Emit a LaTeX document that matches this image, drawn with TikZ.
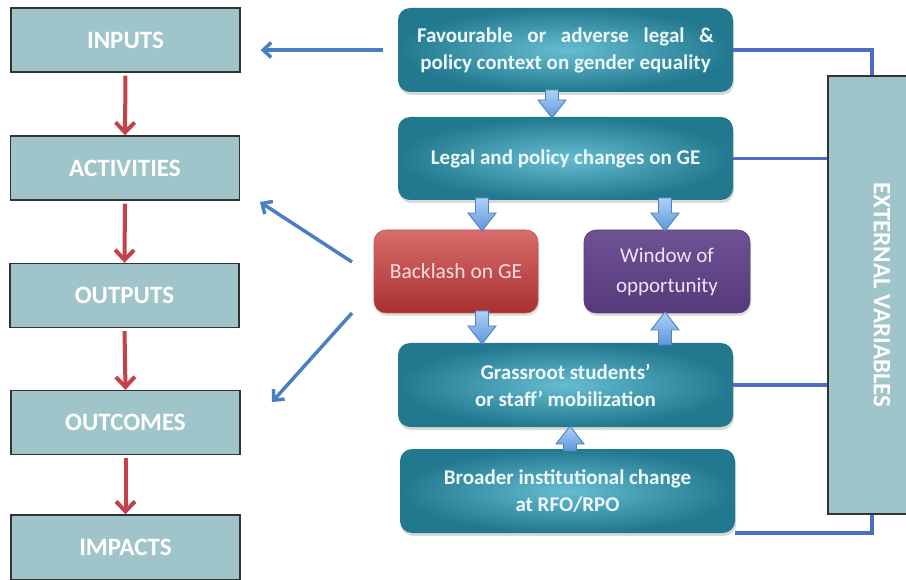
\documentclass[tikz,border=0pt]{standalone}
\usepackage{fontspec}
\setmainfont{Carlito}
\usetikzlibrary{arrows.meta,shadows,calc}
\definecolor{leftfill}{HTML}{9FC4C9}
\definecolor{boxline}{HTML}{333333}
\definecolor{tealin}{HTML}{66BCD0}
\definecolor{tealout}{HTML}{22788E}
\definecolor{tealtext}{HTML}{EEF7F9}
\definecolor{redtop}{HTML}{D96C6C}
\definecolor{redbot}{HTML}{A83030}
\definecolor{redtext}{HTML}{F9DEDE}
\definecolor{purtop}{HTML}{6E5294}
\definecolor{purbot}{HTML}{56397A}
\definecolor{purtext}{HTML}{EDE6F5}
\definecolor{redarrow}{HTML}{C4404A}
\definecolor{bluearrow}{HTML}{4A7FC1}
\definecolor{connblue}{HTML}{4D6EC3}
\definecolor{bardark}{HTML}{5F96D8}
\definecolor{barlight}{HTML}{ABD2F7}
\definecolor{barline}{HTML}{4F81BD}
\begin{document}
\begin{tikzpicture}[x=1pt,y=-1pt,
  lbox/.style={draw=boxline, line width=1.4pt, fill=leftfill, minimum width=229pt, minimum height=64pt, text=white, font=\fontsize{25}{29}\selectfont\bfseries},
  tbox/.style={rounded corners=12pt, inner color=tealin, outer color=tealout, minimum width=335pt, minimum height=84pt, text=tealtext, font=\fontsize{21}{27}\selectfont\bfseries, align=center, drop shadow={shadow xshift=1pt, shadow yshift=-3pt, opacity=0.25, fill=black!60}},
  redbox/.style={rounded corners=12pt, draw=redtop!80!black, line width=0.6pt, top color=redtop, bottom color=redbot, minimum width=164pt, minimum height=83pt, text=redtext, font=\fontsize{21.5}{30}\selectfont, align=center, drop shadow={shadow xshift=1pt, shadow yshift=-3pt, opacity=0.2, fill=black!60}},
  purbox/.style={rounded corners=12pt, draw=purtop!80!black, line width=0.6pt, top color=purtop, bottom color=purbot, minimum width=166pt, minimum height=83pt, text=purtext, font=\fontsize{21}{30}\selectfont, align=center, drop shadow={shadow xshift=1pt, shadow yshift=-3pt, opacity=0.2, fill=black!60}},
  redarr/.style={draw=redarrow, line width=4pt, -{Straight Barb[length=10pt,width=19pt]}},
  bluearr/.style={draw=bluearrow, line width=3.5pt, -{Straight Barb[length=8pt,width=15pt]}},
  conn/.style={draw=connblue, line width=3.5pt},
  bfill/.style={draw=barline, line width=0.9pt, top color=barlight, bottom color=bardark, line join=miter},
  bdown/.pic={\path[bfill] (-6.5,0) -- (-6.5,#1-18) -- (-14,#1-18) -- (0,#1) -- (14,#1-18) -- (6.5,#1-18) -- (6.5,0) -- cycle;},
  bup/.pic={\path[bfill] (-6.5,0) -- (-6.5,-#1+18) -- (-14,-#1+18) -- (0,-#1) -- (14,-#1+18) -- (6.5,-#1+18) -- (6.5,0) -- cycle;}
]
\useasboundingbox (0,0) rectangle (906,580);

% left column
\node[lbox] (inputs) at (125.5,40) {INPUTS};
\node[lbox] (activities) at (125,168) {ACTIVITIES};
\node[lbox] (outputs) at (124.5,295.5) {OUTPUTS};
\node[lbox] (outcomes) at (125.5,422.5) {OUTCOMES};
\node[lbox, minimum height=65pt] (impacts) at (125.5,547.5) {IMPACTS};

\draw[redarr, shorten <=3pt] (inputs.south) -- (activities.north);
\draw[redarr, shorten <=3pt] (activities.south) -- (outputs.north);
\draw[redarr, shorten <=3pt] (outputs.south) -- (outcomes.north);
\draw[redarr, shorten <=3pt] (outcomes.south) -- (impacts.north);

% external variables
\node[draw=boxline, line width=1.4pt, fill=leftfill, minimum width=108pt, minimum height=438pt] (ext) at (882,295) {};
\node[rotate=-90, text=white, font=\fontsize{25}{29}\selectfont\bfseries] (extlabel) at (ext.center) {EXTERNAL VARIABLES};

% right column boxes
\node[tbox] (fav) at (565.5,50) {\hbox to 297pt{Favourable\hfill or\hfill adverse\hfill legal\hfill \&}\\policy context on gender equality};
\node[tbox, minimum height=83pt] (legal) at (565.5,158.5) {Legal and policy changes on GE};
\node[redbox] (backlash) at (456,271.5) {Backlash on GE};
\node[purbox] (window) at (667,271.5) {Window of\\opportunity};
\node[tbox] (grass) at (565.5,385) {Grassroot students’\\or staff’ mobilization};
\node[tbox] (broader) at (567.5,491) {Broader institutional change\\at RFO/RPO};

% block arrows
\pic (b1) at (552,90) {bdown=28};
\pic (b2) at (482,198) {bdown=33};
\pic (b3) at (665,198) {bdown=33};
\pic (b4) at (482,311) {bdown=33};
\pic (b5) at (665,345) {bup=33};
\pic (b6) at (570,451) {bup=25};

% connectors to external variables
\draw[conn] (fav.east) -| ([xshift=-10pt]ext.north);
\draw[conn] (legal.east) -- (legal.east -| ext.west);
\draw[conn] (grass.east) -- (grass.east -| ext.west);
\draw[conn] (broader.south east) -| ([xshift=-10pt]ext.south);

% blue arrows to the left column
\draw[bluearr, shorten <=15pt, shorten >=20pt] (fav.west) -- (fav.west -| inputs.east);
\coordinate (a2s) at (352,262);
\coordinate (a2e) at (260,202);
\coordinate (a3s) at (352,313);
\coordinate (a3e) at (272,402);
\draw[bluearr] (a2s) -- (a2e);
\draw[bluearr] (a3s) -- (a3e);
\end{tikzpicture}
\end{document}
